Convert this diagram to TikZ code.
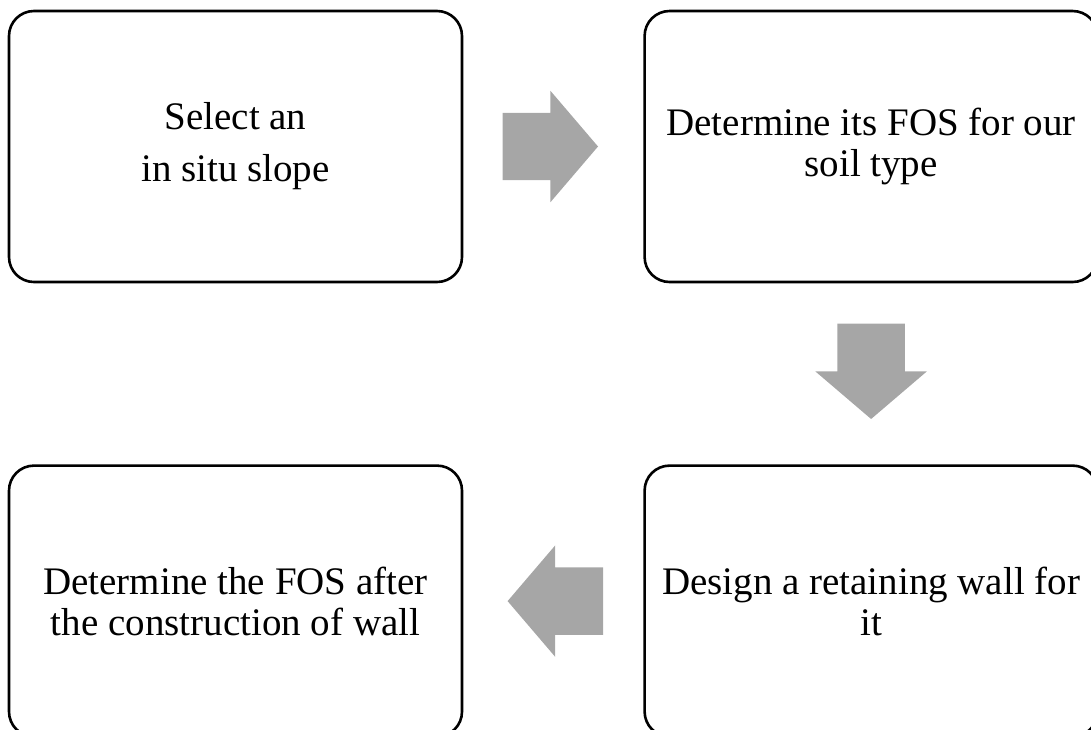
\documentclass[tikz,border=0pt]{standalone}
\usepackage{fontspec}
\setmainfont{Liberation Serif}
\usetikzlibrary{positioning,shapes.arrows,calc}
\definecolor{ArrowGray}{RGB}{166,166,166}

\begin{document}
\begin{tikzpicture}[x=1pt,y=-1pt,node distance=180pt,
    stepbox/.style={draw=black,line width=2.6pt,rounded corners=25pt,minimum width=453pt,minimum height=271pt,align=center,font=\fontsize{39}{41}\selectfont},
    blockarrow/.style={single arrow,anchor=tail,fill=ArrowGray,draw=none,inner xsep=0pt,inner ysep=33.5pt,minimum height=95.5pt,single arrow head extend=22pt,single arrow tip angle=99,single arrow head indent=0pt}]
    \useasboundingbox (0,0) rectangle (1091,729);
    \node[stepbox] (s1) at (235.5,146.5) {Select an\\[11pt]in situ slope};
    \node[stepbox,right=of s1] (s2) {Determine its FOS for our\\soil type};
    \node[stepbox,below=181pt of s2] (s3) {Design a retaining wall for\\it};
    \node[stepbox,left=of s3] (s4) {Determine the FOS after\\the construction of wall};
    % block arrows between the steps
    \node[blockarrow] (a12) at ($(s1.east)+(39,0)$) {};
    \node[blockarrow,rotate=-90] (a23) at ($(s2.south)+(0,40)$) {};
    \node[blockarrow,rotate=180] (a34) at ($(s3.west)+(-40,0)$) {};
\end{tikzpicture}
\end{document}
